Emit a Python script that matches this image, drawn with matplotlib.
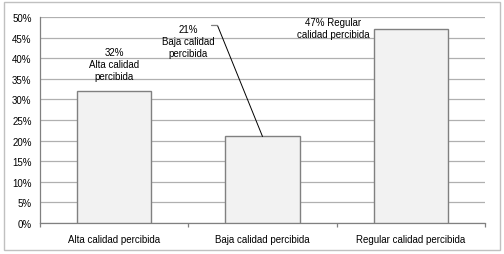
import matplotlib
matplotlib.use("Agg")
import matplotlib.pyplot as plt
from matplotlib.patches import Rectangle
from matplotlib.transforms import offset_copy
from matplotlib.ticker import PercentFormatter, FixedLocator

categories = ["Alta calidad percibida", "Baja calidad percibida", "Regular calidad percibida"]
values = [32, 21, 47]
labels = ["32%\nAlta calidad\npercibida", "21%\nBaja calidad\npercibida", "47% Regular\ncalidad percibida"]

plt.rcParams['font.family'] = ['Liberation Sans', 'DejaVu Sans']

W, H = 504, 255
fig = plt.figure(figsize=(W/100, H/100), dpi=100)
fig.patches.append(Rectangle((4/W, 4/H), 496/W, 248/H, transform=fig.transFigure,
                             fill=False, edgecolor='#c0c0c0', lw=1.0))
ax = fig.add_axes([40/W, (H-224)/H, 445/W, 206/H])

x = range(len(categories))
ax.bar(x, values, width=0.5, color='#f2f2f2', edgecolor='#808080', linewidth=1.0, zorder=3)
ax.set_xlim(-0.5, 2.5)
ax.set_ylim(0, 50)
ax.set_yticks(range(0, 51, 5))
ax.yaxis.set_major_formatter(PercentFormatter(decimals=0))
ax.grid(axis='y', color='#b0b0b0', lw=0.9, zorder=0)
ax.set_axisbelow(True)
ax.set_xticks(list(x))
ax.set_xticklabels(categories)
ax.xaxis.set_minor_locator(FixedLocator([-0.5, 0.5, 1.5, 2.5]))
ax.tick_params(axis='x', which='major', length=0, pad=8, labelsize=7)
ax.tick_params(axis='x', which='minor', length=3, color='#808080', width=0.9)
ax.tick_params(axis='y', length=0, pad=6, labelsize=7)
for s in ['top', 'right']:
    ax.spines[s].set_visible(False)
for s in ['left', 'bottom']:
    ax.spines[s].set_color('#808080')
    ax.spines[s].set_linewidth(0.9)

offsets = [(0, 27), (-74, 95), (-78, 1)]
for i, (v, lab, off) in enumerate(zip(values, labels, offsets)):
    ax.annotate(lab, xy=(i, v), xytext=off, textcoords='offset pixels',
                ha='center', va='center', fontsize=7, linespacing=1.25, zorder=5)

# leader line for second label
start = offset_copy(ax.transData, fig=fig, x=-45, y=111, units='dots')
ax.annotate('', xy=(1, values[1]), xycoords='data', xytext=(1, values[1]), textcoords=start,
            arrowprops=dict(arrowstyle='-', shrinkA=0, shrinkB=0, color='black', lw=0.7))
hs = offset_copy(ax.transData, fig=fig, x=-51, y=111, units='dots')
ax.annotate('', xy=(1, values[1]), xycoords=start, xytext=(1, values[1]), textcoords=hs,
            arrowprops=dict(arrowstyle='-', shrinkA=0, shrinkB=0, color='#808080', lw=0.9))

fig.savefig("out.png", dpi=100)
